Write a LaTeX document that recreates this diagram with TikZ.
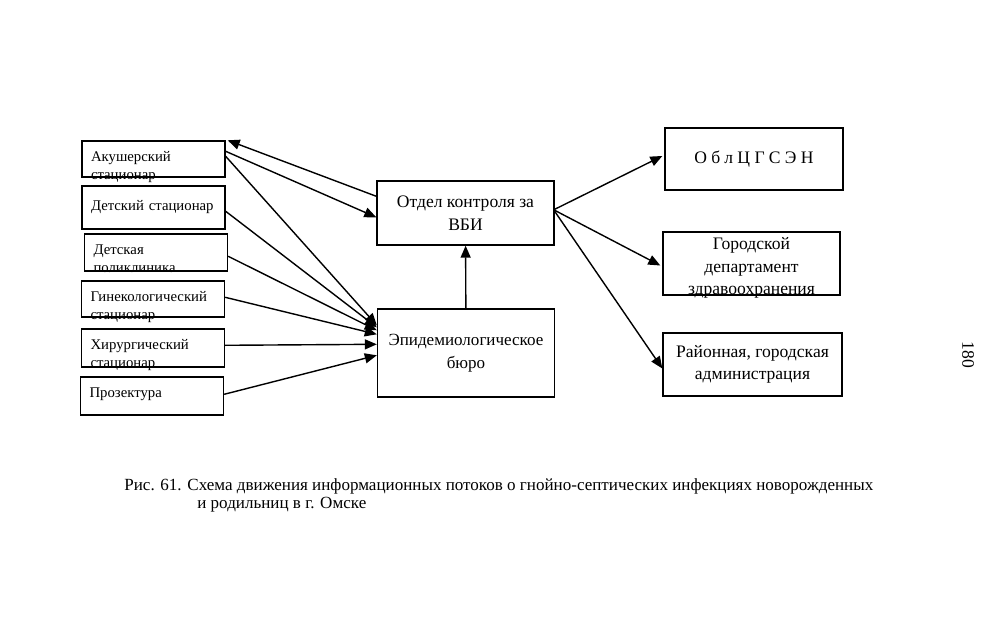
\documentclass[tikz,border=0pt]{standalone}
\usepackage{fontspec}
\setmainfont{Liberation Serif}
\usetikzlibrary{positioning,arrows.meta,calc}

\begin{document}
\begin{tikzpicture}[x=0.02cm,y=-0.02cm,>={Triangle[length=2.4mm,width=2mm]},
  box/.style={draw,line width=0.8pt},
  lbox/.style={box,text width=2.5cm,inner xsep=0.18cm,inner ysep=0pt,align=left,font=\fontsize{8.4}{10}\selectfont},
  cbox/.style={box,minimum width=3.54cm,inner ysep=1pt,align=center,font=\fontsize{10}{12.9}\selectfont},
  flow/.style={->,line width=0.8pt}]
\useasboundingbox (0,0) rectangle (994,641);

% left column
\node[lbox,text height=0.41cm,text depth=0.31cm] (akush) at (153.5,159) {Акушерский\\стационар};
\node[lbox,text height=0.49cm,text depth=0.37cm] (detst) at (153.5,207.5) {Детский стационар};
\node[lbox,text height=0.41cm,text depth=0.33cm] (detpol) at (156,252.5) {Детская\\поликлиника};
\node[lbox,text height=0.41cm,text depth=0.31cm] (ginek) at (153,299) {Гинекологический\\стационар};
\node[lbox,text height=0.41cm,text depth=0.35cm] (hirurg) at (153,348) {Хирургический\\стационар};
\node[lbox,text height=0.41cm,text depth=0.35cm] (prozekt) at (152,396) {Прозектура};

% middle
\node[cbox,minimum height=1.28cm] (otdel) at (465.5,213) {Отдел контроля за\\ВБИ};
\node[cbox,minimum height=1.76cm,font=\fontsize{9.7}{12.9}\selectfont] (epid) at (466,353) {Эпидемиологическое\\бюро};

% right column
\node[cbox,minimum width=3.56cm,minimum height=1.24cm] (oblc) at (754,159)
  {\addfontfeatures{LetterSpace=25}ОблЦГСЭН};
\node[cbox,inner ysep=0pt,text height=1.26cm,text depth=0cm] (gordep) at (751.5,263.5) {Городской\\департамент\\здравоохранения};
\node[cbox,minimum width=3.58cm,minimum height=1.26cm] (rayon) at (752.5,364.5) {Районная, городская\\администрация};

\draw[flow] ($(akush.north east)+(0,11)$) -- ($(otdel.north west)+(0,37)$);
\draw[flow] ($(otdel.north west)+(0,16)$) -- ($(akush.north east)+(2,0)$);
\draw[flow] ($(akush.north east)+(0,16)$) -- ($(epid.north west)+(0,17)$);
\draw[flow] ($(detst.north east)+(0,26)$) -- ($(epid.north west)+(0,19)$);
\draw[flow] ($(detpol.north east)+(0,23)$) -- ($(epid.north west)+(0,22)$);
\draw[flow] ($(ginek.north east)+(0,17)$) -- ($(epid.north west)+(0,26)$);
\draw[flow] ($(hirurg.north east)+(0,17)$) -- ($(epid.north west)+(0,36)$);
\draw[flow] ($(prozekt.north east)+(0,18)$) -- ($(epid.north west)+(0,47)$);
\draw[flow] (epid) -- (otdel);
\draw[flow] ($(otdel.north east)+(0,29)$) -- ($(oblc.west)+(-2,-3)$);
\draw[flow] ($(otdel.north east)+(0,30)$) -- ($(gordep.west)+(-2,2)$);
\draw[flow] ($(otdel.north east)+(0,31)$) -- ($(rayon.west)+(0,4)$);

\node[anchor=base west,align=left,inner sep=0pt,font=\fontsize{9.7}{10.8}\selectfont] (cap) at (124,509)
  {Рис. 61. Схема движения информационных потоков о гнойно-септических инфекциях новорожденных\\
   \hspace*{1.46cm}и родильниц в г. Омске};
\node[rotate=-90,font=\fontsize{10}{12}\selectfont] (page) at (968,355) {180};
\end{tikzpicture}
\end{document}
